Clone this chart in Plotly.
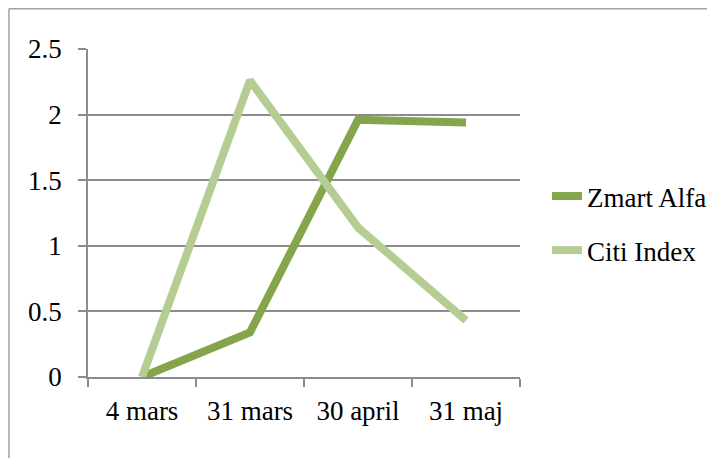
import plotly.graph_objects as go

categories = ["4 mars", "31 mars", "30 april", "31 maj"]
zmart_alfa = [0.0, 0.34, 1.96, 1.94]
citi_index = [0.0, 2.26, 1.14, 0.43]
y_ticks = [0, 0.5, 1, 1.5, 2, 2.5]
y_tick_labels = ["0", "0.5", "1", "1.5", "2", "2.5"]

FONT = "Liberation Serif"
GRID = "#8c8c8c"

fig = go.Figure()
fig.add_trace(go.Scatter(x=categories, y=zmart_alfa, mode="lines", name="Zmart Alfa",
                         legendgroup="a", line=dict(color="#85a54a", width=8)))
fig.add_trace(go.Scatter(x=categories, y=citi_index, mode="lines", name="Citi Index",
                         legendgroup="b", line=dict(color="#b5cc93", width=8)))

# page body has an 8px margin, so figure coords = screen coords - 8
W, H = 715, 458
OFF = 8
L, T = 88 - OFF, 49 - OFF
R = W - (521 - OFF)
B = H - (377 - OFF)
pw, ph = W - L - R, H - T - B

def px_x(p):
    return (p - OFF - L) / pw

def px_y(p):
    return (H - B - (p - OFF)) / ph

border = dict(color="#a0a0a0", width=1.5)
fig.add_shape(type="line", xref="paper", yref="paper",
              x0=px_x(8.75), x1=px_x(8.75), y0=px_y(8.75), y1=px_y(480), line=border)
fig.add_shape(type="line", xref="paper", yref="paper",
              x0=px_x(8.75), x1=px_x(740), y0=px_y(8.75), y1=px_y(8.75), line=border)

fig.update_layout(
    width=W, height=H,
    margin=dict(l=L, r=R, t=T, b=B),
    paper_bgcolor="white", plot_bgcolor="white",
    font=dict(family=FONT, size=27, color="black"),
    showlegend=True,
    legend=dict(x=px_x(547), xanchor="left", y=px_y(172), yanchor="top",
                tracegroupgap=16, font=dict(family=FONT, size=27, color="black"),
                bgcolor="rgba(0,0,0,0)"),
    xaxis=dict(type="category", tickson="boundaries", range=[-0.5, 3.5],
               showgrid=False, showline=True, linecolor=GRID, linewidth=1.5,
               ticks="outside", ticklen=8, tickcolor=GRID, tickwidth=1.5,
               ticklabelstandoff=9, zeroline=False),
    yaxis=dict(range=[0, 2.5], tickvals=y_ticks, ticktext=y_tick_labels,
               showgrid=True, gridcolor=GRID, gridwidth=1.5,
               showline=True, linecolor=GRID, linewidth=1.5,
               ticks="outside", ticklen=8, tickcolor=GRID, tickwidth=1.5,
               ticklabelstandoff=11, zeroline=False),
)

fig.write_html("out.html")
